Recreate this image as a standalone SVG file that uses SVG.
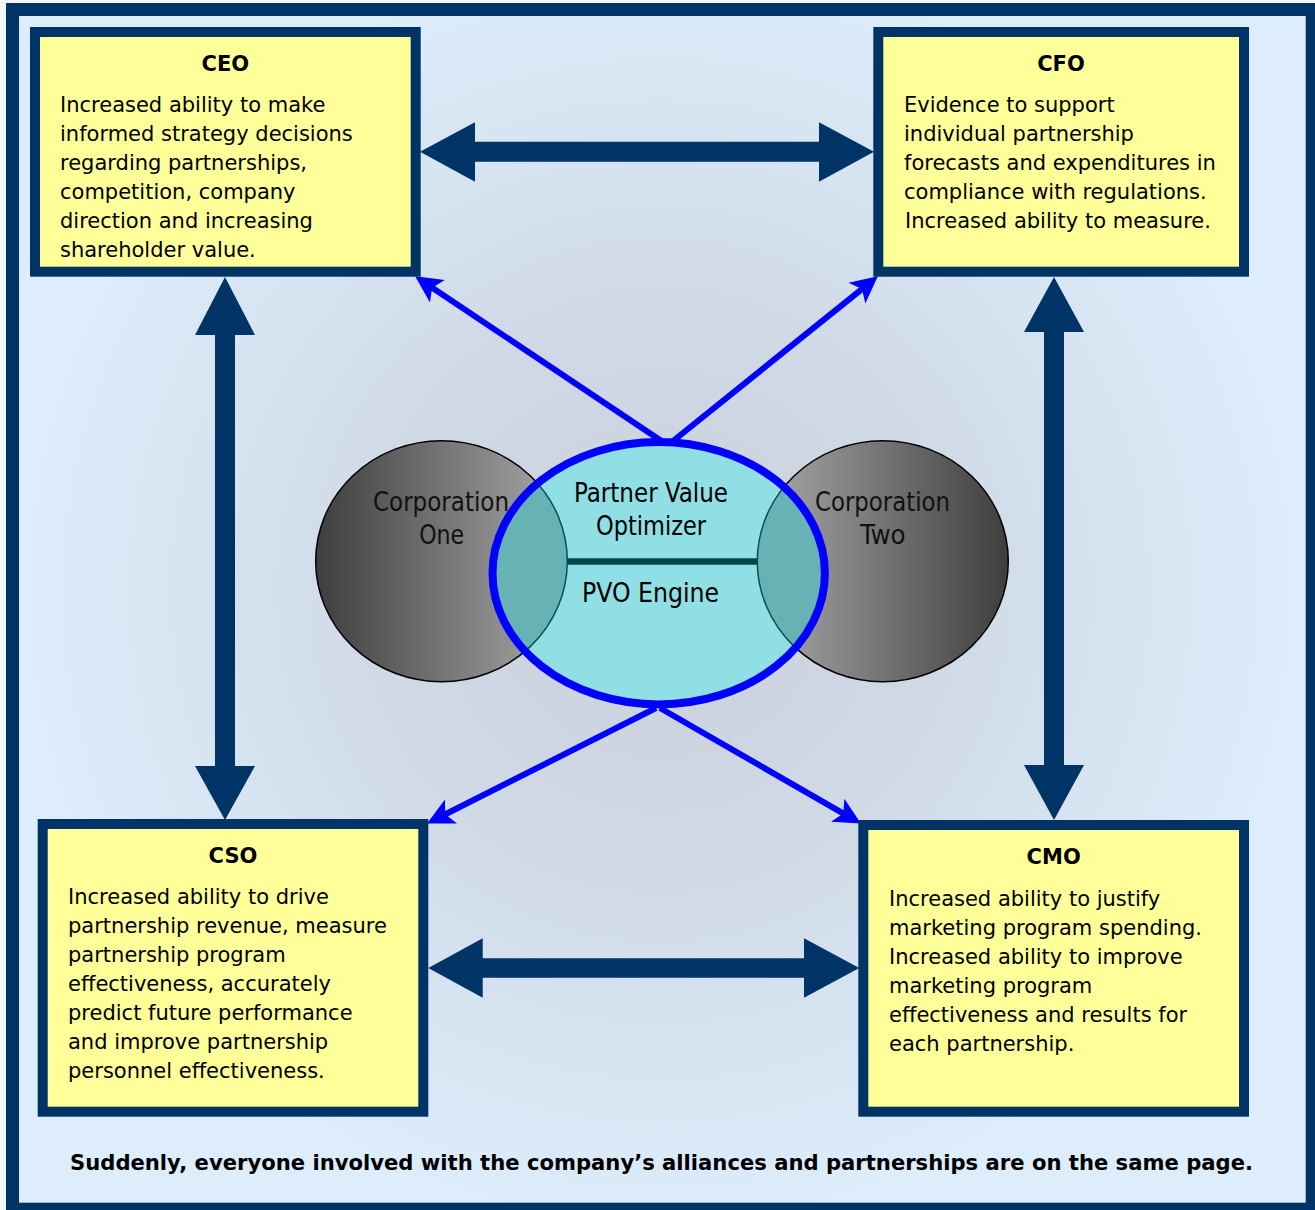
<svg xmlns="http://www.w3.org/2000/svg" width="1315" height="1210" viewBox="0 0 1315 1210">
<defs>
<radialGradient id="bg" gradientUnits="userSpaceOnUse" cx="660" cy="590" r="640">
<stop offset="0" stop-color="#C8CFDA"/>
<stop offset="0.45" stop-color="#D0DAE6"/>
<stop offset="1" stop-color="#DDEDFC"/>
</radialGradient>
<linearGradient id="g1" x1="0" y1="0" x2="1" y2="0">
<stop offset="0" stop-color="#3E3E3E"/>
<stop offset="0.85" stop-color="#9A9A9A"/>
<stop offset="1" stop-color="#A0A0A0"/>
</linearGradient>
<linearGradient id="g2" x1="0" y1="0" x2="1" y2="0">
<stop offset="0" stop-color="#A0A0A0"/>
<stop offset="0.15" stop-color="#9A9A9A"/>
<stop offset="1" stop-color="#3E3E3E"/>
</linearGradient>
<clipPath id="pvoClip"><ellipse cx="658.7" cy="573.2" rx="166.2" ry="131.2"/></clipPath>
<marker id="bh" markerUnits="userSpaceOnUse" markerWidth="30" markerHeight="30" viewBox="-26 -14 28 28" refX="-15" refY="0" orient="auto">
<path d="M0,0 L-25,-12.5 L-19,0 L-25,12.5 Z" fill="#0000FF"/>
</marker>
<style>
.box{fill:#FFFF99;stroke:#003366;stroke-width:10}
.title{font-family:"DejaVu Sans",sans-serif;font-weight:bold;font-size:21px;fill:#000;text-anchor:middle}
.body{font-family:"DejaVu Sans",sans-serif;font-size:21px;fill:#000}
.nav{fill:#003366}
.blue{stroke:#0000FF;stroke-width:6;fill:none;marker-end:url(#bh)}
.corp{font-family:"DejaVu Sans Condensed","DejaVu Sans",sans-serif;font-stretch:condensed;font-size:27px;fill:#111;text-anchor:middle}
.pvo{font-family:"DejaVu Sans Condensed","DejaVu Sans",sans-serif;font-stretch:condensed;font-size:27px;fill:#000;text-anchor:middle}
.foot{font-family:"DejaVu Sans",sans-serif;font-weight:bold;font-size:20.5px;fill:#000}
</style>
</defs>

<rect x="0" y="0" width="1315" height="1210" fill="#F4F6F9"/>
<rect x="12.5" y="9.5" width="1299.7" height="1199.7" fill="url(#bg)" stroke="#003366" stroke-width="13"/>

<g id="connectors">
<polygon class="nav" points="420,151.7 475,122.3 475,141.7 819,141.7 819,122.3 874,151.7 819,181.7 819,161.7 475,161.7 475,181.7"/>
<polygon class="nav" points="428.3,968 482.7,938.3 482.7,958.3 804,958.3 804,938.3 859.3,968 804,997.7 804,977.7 482.7,977.7 482.7,997.7"/>
<polygon class="nav" points="225,277 255,335 235,335 235,766 255,766 225,820 195,766 215,766 215,335 195,335"/>
<polygon class="nav" points="1054,277 1084,332 1064,332 1064,765 1084,765 1054,820 1024,765 1044,765 1044,332 1024,332"/>
<line class="blue" x1="663" y1="442" x2="428.5" y2="285.3"/>
<line class="blue" x1="673" y1="441" x2="865.3" y2="286.4"/>
<line class="blue" x1="656" y1="708" x2="441.4" y2="816.3"/>
<line class="blue" x1="660" y1="708" x2="847" y2="815.6"/>
</g>

<g id="ceo">
<rect class="box" x="35" y="32" width="380.7" height="239.7"/>
<text class="title" x="225.3" y="70.7">CEO</text>
<text class="body" x="60" y="112.3"><tspan x="60">Increased ability to make</tspan><tspan x="60" dy="29">informed strategy decisions</tspan><tspan x="60" dy="29">regarding partnerships,</tspan><tspan x="60" dy="29">competition, company</tspan><tspan x="60" dy="29">direction and increasing</tspan><tspan x="60" dy="29">shareholder value.</tspan></text>
</g>

<g id="cfo">
<rect class="box" x="878.3" y="32" width="365.7" height="239.7"/>
<text class="title" x="1061" y="70.7">CFO</text>
<text class="body" x="904" y="112.3"><tspan x="904">Evidence to support</tspan><tspan x="904" dy="29">individual partnership</tspan><tspan x="904" dy="29">forecasts and expenditures in</tspan><tspan x="904" dy="29">compliance with regulations.</tspan><tspan x="905" dy="29">Increased ability to measure.</tspan></text>
</g>

<g id="cso">
<rect class="box" x="42.7" y="824" width="380.6" height="287.7"/>
<text class="title" x="233" y="862.7">CSO</text>
<text class="body" x="68" y="904.3"><tspan x="68">Increased ability to drive</tspan><tspan x="68" dy="29">partnership revenue, measure</tspan><tspan x="68" dy="29">partnership program</tspan><tspan x="68" dy="29">effectiveness, accurately</tspan><tspan x="68" dy="29">predict future performance</tspan><tspan x="68" dy="29">and improve partnership</tspan><tspan x="68" dy="29">personnel effectiveness.</tspan></text>
</g>

<g id="cmo">
<rect class="box" x="863.3" y="825" width="380.7" height="286.7"/>
<text class="title" x="1053.7" y="864">CMO</text>
<text class="body" x="889" y="906"><tspan x="889">Increased ability to justify</tspan><tspan x="889" dy="29">marketing program spending.</tspan><tspan x="889" dy="29">Increased ability to improve</tspan><tspan x="889" dy="29">marketing program</tspan><tspan x="889" dy="29">effectiveness and results for</tspan><tspan x="889" dy="29">each partnership.</tspan></text>
</g>

<g id="corporation-one">
<ellipse cx="441.5" cy="561.2" rx="125.8" ry="120.5" fill="url(#g1)" stroke="#000" stroke-width="1.5"/>
</g>
<g id="corporation-two">
<ellipse cx="882.8" cy="561.2" rx="125.5" ry="120.5" fill="url(#g2)" stroke="#000" stroke-width="1.5"/>
</g>

<g id="pvo">
<ellipse cx="658.7" cy="573.2" rx="166.2" ry="131.2" fill="#8FDFE5"/>
<g clip-path="url(#pvoClip)">
<ellipse cx="441.5" cy="561.2" rx="125.8" ry="120.5" fill="#66B2B4" stroke="#0B4F50" stroke-width="1.5"/>
<ellipse cx="882.8" cy="561.2" rx="125.5" ry="120.5" fill="#66B2B4" stroke="#0B4F50" stroke-width="1.5"/>
</g>
<line x1="567" y1="561.5" x2="757.5" y2="561.5" stroke="#004848" stroke-width="6.5"/>
<ellipse cx="658.7" cy="573.2" rx="166.2" ry="131.2" fill="none" stroke="#0000FF" stroke-width="8"/>
<text class="pvo" x="651" y="502" textLength="154" lengthAdjust="spacingAndGlyphs">Partner Value</text>
<text class="pvo" x="651" y="535" textLength="110" lengthAdjust="spacingAndGlyphs">Optimizer</text>
<text class="pvo" x="650.5" y="602" textLength="137" lengthAdjust="spacingAndGlyphs">PVO Engine</text>
</g>

<g id="corp-labels">
<text class="corp" x="441" y="510.7" textLength="136" lengthAdjust="spacingAndGlyphs">Corporation</text>
<text class="corp" x="441.7" y="544.3" textLength="45" lengthAdjust="spacingAndGlyphs">One</text>
<text class="corp" x="882.5" y="510.7" textLength="135" lengthAdjust="spacingAndGlyphs">Corporation</text>
<text class="corp" x="882.8" y="544.3" textLength="45.7" lengthAdjust="spacingAndGlyphs">Two</text>
</g>

<text class="foot" x="70" y="1170" textLength="1183" lengthAdjust="spacingAndGlyphs">Suddenly, everyone involved with the company’s alliances and partnerships are on the same page.</text>
</svg>
